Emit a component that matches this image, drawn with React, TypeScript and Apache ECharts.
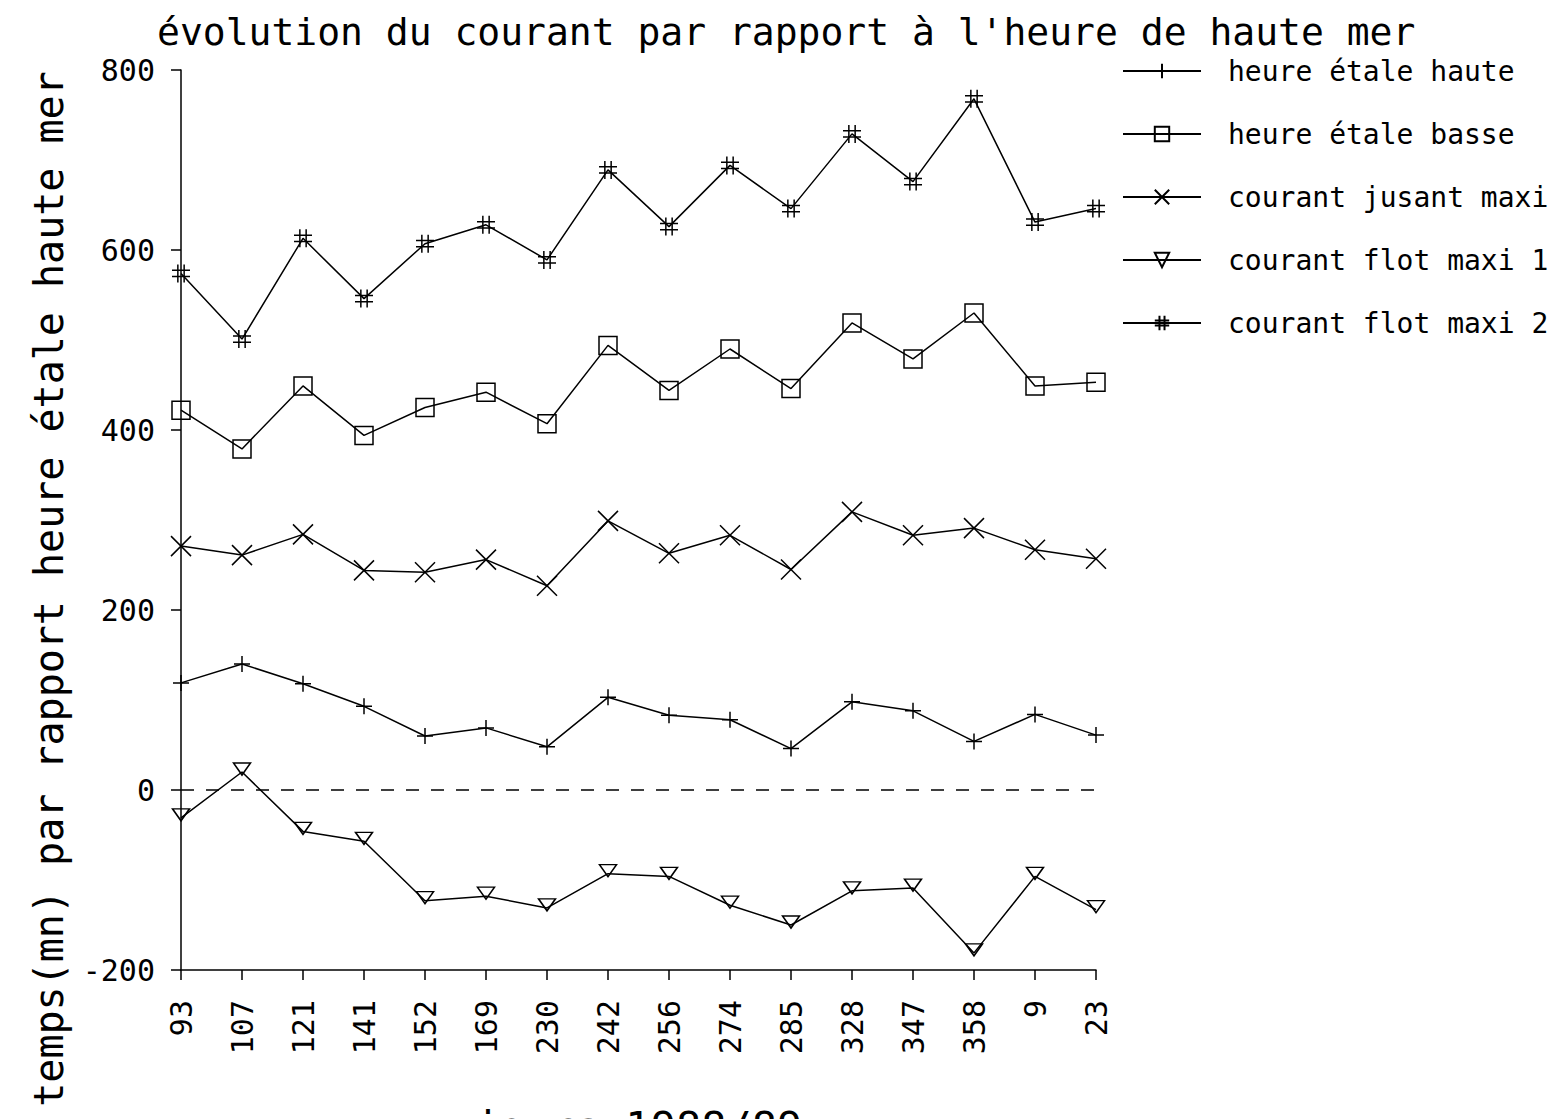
import React, { useEffect, useRef } from "react";
import * as echarts from "echarts";

const days = ["93", "107", "121", "141", "152", "169", "230", "242", "256", "274", "285", "328", "347", "358", "9", "23"];
const heureEtaleHaute = [119, 140, 118, 93, 60, 69, 48, 103, 83, 78, 46, 98, 88, 54, 84, 61];
const heureEtaleBasse = [422, 379, 449, 394, 425, 442, 407, 494, 444, 490, 446, 519, 479, 530, 449, 453];
const courantJusantMaxi = [271, 261, 284, 244, 242, 256, 227, 299, 263, 283, 245, 309, 283, 291, 267, 257];
const courantFlotMaxi1 = [-31, 20, -46, -57, -123, -118, -131, -93, -96, -128, -150, -112, -109, -181, -96, -133];
const courantFlotMaxi2 = [574, 501, 613, 546, 607, 628, 589, 689, 626, 694, 646, 729, 676, 768, 631, 646];

const seriesNames = [
  "heure étale haute",
  "heure étale basse",
  "courant jusant maxi",
  "courant flot maxi 1",
  "courant flot maxi 2",
];
const titleText = "évolution du courant par rapport à l'heure de haute mer";
const yName = "temps(mn) par rapport heure étale haute mer";
const xName = "jours 1988/89";

const FONT = "'DejaVu Sans Mono', monospace";

export default function App() {
  const ref = useRef<HTMLDivElement>(null);
  useEffect(() => {
    if (!ref.current) return;
    const chart = echarts.init(ref.current, undefined, { renderer: "svg" });
    const symStyle = { color: "rgba(0,0,0,0)", borderColor: "#000", borderWidth: 1.5 };
    const mk = (name: string, data: number[], symbol: string, size: any, extra: any = {}) => ({
      name,
      type: "line",
      data,
      symbol,
      symbolSize: size,
      showAllSymbol: true,
      lineStyle: { color: "#000", width: 1.5 },
      itemStyle: symStyle,
      emphasis: { disabled: true },
      ...extra,
    });
    chart.setOption({
      animation: false,
      backgroundColor: "#fff",
      textStyle: { fontFamily: FONT, color: "#000" },
      title: {
        text: titleText,
        left: 152,
        top: 8,
        textStyle: { fontFamily: FONT, fontSize: 38, fontWeight: "normal", color: "#000" },
      },
      legend: {
        orient: "vertical",
        left: 1122,
        top: 57,
        padding: 0,
        itemWidth: 78,
        itemHeight: 18,
        itemGap: 35,
        textStyle: { fontFamily: FONT, fontSize: 28, color: "#000", padding: [0, 0, 0, 22] },
        data: seriesNames,
      },
      grid: { left: 181, right: 468, top: 70, bottom: 149, containLabel: false },
      xAxis: {
        type: "category",
        data: days,
        boundaryGap: false,
        axisLine: { onZero: false, lineStyle: { color: "#000", width: 1.5 } },
        axisTick: { show: true, length: 10, lineStyle: { color: "#000", width: 1.5 } },
        axisLabel: { rotate: 90, margin: 30, fontFamily: FONT, fontSize: 30, color: "#000", interval: 0 },
        splitLine: { show: false },
      },
      yAxis: {
        type: "value",
        min: -200,
        max: 800,
        interval: 200,
        axisLine: { show: true, lineStyle: { color: "#000", width: 1.5 } },
        axisTick: { show: true, length: 10, lineStyle: { color: "#000", width: 1.5 } },
        axisLabel: { margin: 26, fontFamily: FONT, fontSize: 30, color: "#000" },
        splitLine: { show: false },
      },
      graphic: [
        {
          type: "text",
          x: 49,
          y: 589,
          rotation: Math.PI / 2,
          style: {
            text: yName,
            font: "40px 'DejaVu Sans Mono', monospace",
            fill: "#000",
            align: "center",
            verticalAlign: "middle",
          },
        },
        {
          type: "text",
          x: 638,
          y: 1127,
          style: {
            text: xName,
            font: "42px 'DejaVu Sans Mono', monospace",
            fill: "#000",
            align: "center",
            verticalAlign: "middle",
          },
        },
      ],
      series: [
        mk(seriesNames[0], heureEtaleHaute, "path://M0,-1 L0,1 M-1,0 L1,0", 16, {
          markLine: {
            silent: true,
            symbol: "none",
            label: { show: false },
            lineStyle: { color: "#000", width: 1.5, type: [13, 12] },
            data: [{ yAxis: 0 }],
          },
        }),
        mk(seriesNames[1], heureEtaleBasse, "rect", 18),
        mk(seriesNames[2], courantJusantMaxi, "path://M-1,-1 L1,1 M-1,1 L1,-1", 20),
        mk(seriesNames[3], courantFlotMaxi1, "path://M-1,-0.7 L1,-0.7 L0,0.7 Z", [17, 12], {
          symbolOffset: [0, -3],
        }),
        mk(
          seriesNames[4],
          courantFlotMaxi2,
          "path://M-1,-0.35 L1,-0.35 M-1,0.35 L1,0.35 M-0.35,-1 L-0.35,1 M0.35,-1 L0.35,1",
          18
        ),
      ],
    });
    return () => chart.dispose();
  }, []);
  return (
    <div
      ref={ref}
      style={{ position: "fixed", left: 0, top: 0, width: 1564, height: 1119, background: "#fff" }}
    />
  );
}
